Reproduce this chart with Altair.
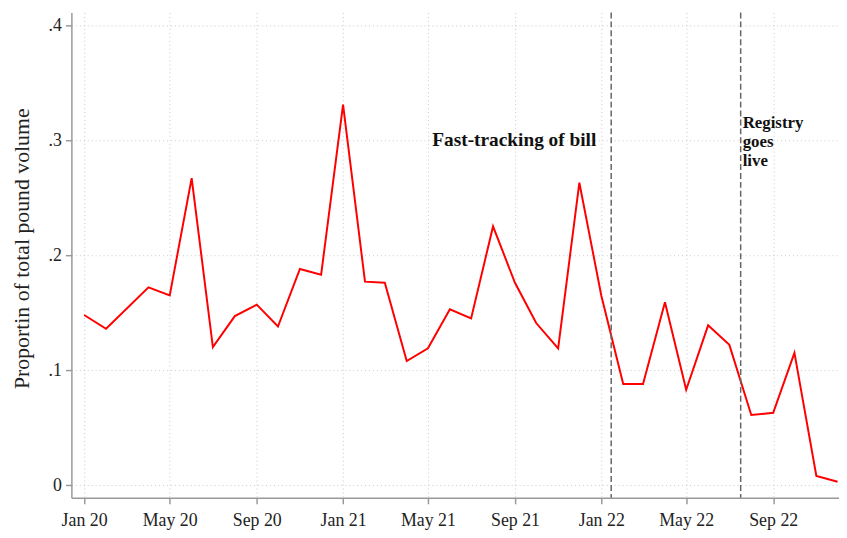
import altair as alt
import pandas as pd

# Monthly series (first of month), Mar 2020 not shown in the source line
months = ["2020-01-01", "2020-02-01", "2020-04-01", "2020-05-01", "2020-06-01",
          "2020-07-01", "2020-08-01", "2020-09-01", "2020-10-01", "2020-11-01",
          "2020-12-01", "2021-01-01", "2021-02-01", "2021-03-01", "2021-04-01",
          "2021-05-01", "2021-06-01", "2021-07-01", "2021-08-01", "2021-09-01",
          "2021-10-01", "2021-11-01", "2021-12-01", "2022-01-01", "2022-02-01",
          "2022-03-01", "2022-04-01", "2022-05-01", "2022-06-01", "2022-07-01",
          "2022-08-01", "2022-09-01", "2022-10-01", "2022-11-01", "2022-12-01"]
share = [0.148, 0.136, 0.172, 0.165, 0.267,
         0.120, 0.147, 0.157, 0.138, 0.188,
         0.183, 0.331, 0.177, 0.176, 0.108,
         0.119, 0.153, 0.145, 0.225, 0.176,
         0.141, 0.119, 0.263, 0.165, 0.088,
         0.088, 0.159, 0.083, 0.139, 0.122,
         0.061, 0.063, 0.115, 0.008, 0.003]

event_dates = ["2022-01-15", "2022-07-17"]
event_labels = ["Fast-tracking of bill", "Registry\ngoes\nlive"]

tick_dates = ["2020-01-01", "2020-05-01", "2020-09-01", "2021-01-01", "2021-05-01",
              "2021-09-01", "2022-01-01", "2022-05-01", "2022-09-01"]
y_ticks = [0, 0.1, 0.2, 0.3, 0.4]

x_domain = ["2019-12-14", "2022-12-03"]
y_domain = [-0.011, 0.411]


def ms(d):
    return int(pd.Timestamp(d, tz="UTC").value // 10**6)


df = pd.DataFrame({"date": [ms(d) for d in months], "share": share})
ev = pd.DataFrame({"date": [ms(d) for d in event_dates], "label": event_labels})

FONT = "Liberation Serif"

ylabel_expr = "datum.value == 0 ? '0' : replace(format(datum.value, '.1f'), '0.', '.')"
xlabel_expr = "utcFormat(datum.value, '%b %y')"

x_scale = alt.Scale(type="utc", domain=[ms(d) for d in x_domain], nice=False)
y_scale = alt.Scale(domain=y_domain, nice=False, zero=False)

x_axis = alt.Axis(values=[ms(d) for d in tick_dates], labelExpr=xlabel_expr,
                  title=None, grid=True, gridDash=[1, 3], gridColor="#c8c8c8",
                  gridWidth=1, domainColor="#999999", domainWidth=1.5,
                  tickColor="#999999", tickSize=6, tickWidth=1.5,
                  labelFont=FONT, labelFontSize=18, labelColor="#222222",
                  labelPadding=8)
y_axis = alt.Axis(values=y_ticks, labelExpr=ylabel_expr,
                  title="Proportin of total pound volume", grid=True,
                  gridDash=[1, 3], gridColor="#c8c8c8", gridWidth=1,
                  domainColor="#999999", domainWidth=1.5,
                  tickColor="#999999", tickSize=6, tickWidth=1.5,
                  labelFont=FONT, labelFontSize=18, labelColor="#222222",
                  labelPadding=4, titleFont=FONT, titleFontSize=22,
                  titleFontWeight="normal", titleColor="#222222",
                  titleX=-50, titleY=238, titleAngle=-90,
                  titleAlign="center", titleBaseline="middle")

line = alt.Chart(df).mark_line(color="#ff0000", strokeWidth=2, clip=True).encode(
    x=alt.X("date:T", scale=x_scale, axis=x_axis),
    y=alt.Y("share:Q", scale=y_scale, axis=y_axis),
)

rules = alt.Chart(ev).mark_rule(color="#666666", strokeDash=[6, 3], strokeWidth=1.5).encode(
    x=alt.X("date:T", scale=x_scale),
)

txt1 = alt.Chart(ev.iloc[[0]]).mark_text(
    align="right", baseline="middle", dx=-15, font=FONT, fontSize=19.5,
    fontWeight="bold", color="#111111"
).encode(x=alt.X("date:T", scale=x_scale), y=alt.value(129), text="label:N")

txt2 = alt.Chart(ev.iloc[[1]]).mark_text(
    align="left", baseline="alphabetic", dx=2, font=FONT, fontSize=17,
    fontWeight="bold", color="#111111", lineBreak="\n", lineHeight=19
).encode(x=alt.X("date:T", scale=x_scale), y=alt.value(117), text="label:N")

chart = alt.layer(line, rules, txt1, txt2).properties(
    width=775, height=490,
    autosize=alt.AutoSizeParams(type="none"),
    padding={"left": 64, "top": 2, "right": 0, "bottom": 40},
    background="white",
).configure_view(stroke=None)

chart.save("out.html", embed_options={"renderer": "svg", "actions": False})
